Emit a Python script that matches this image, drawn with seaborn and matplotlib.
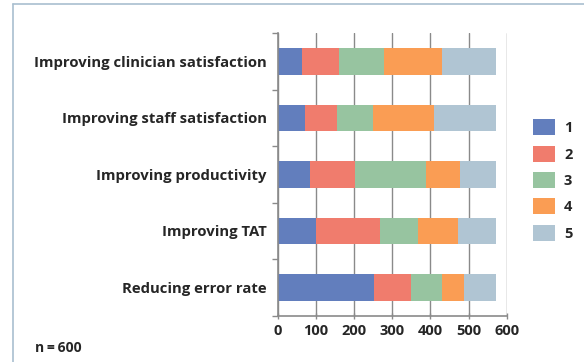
import numpy as np
import pandas as pd
import matplotlib
matplotlib.use("Agg")
import matplotlib.pyplot as plt
from matplotlib.lines import Line2D
from matplotlib.patches import Patch
import seaborn as sns

categories = ["Improving clinician satisfaction", "Improving staff satisfaction",
              "Improving productivity", "Improving TAT", "Reducing error rate"]
ratings = ["1", "2", "3", "4", "5"]
r1 = [64, 72, 85, 100, 252]
r2 = [97, 84, 118, 168, 97]
r3 = [117, 94, 184, 99, 80]
r4 = [152, 160, 91, 106, 59]
r5 = [142, 162, 94, 99, 84]
x_ticks = [0, 100, 200, 300, 400, 500, 600]
note = "n\u2009=\u2009600"

colors = ["#627ebd", "#f07c6d", "#97c4a0", "#fa9d54", "#b0c5d3"]

sns.set_theme(style="white")
plt.rcParams["font.family"] = ["Open Sans", "DejaVu Sans"]

series = [r1, r2, r3, r4, r5]
cum = np.cumsum(np.array(series), axis=0)

fig = plt.figure(figsize=(5.84, 3.62), dpi=100)
ax = fig.add_axes([278 / 584, 1 - 315.7 / 362, (506.7 - 278) / 584, (315.7 - 33) / 362])

for i in range(len(ratings) - 1, -1, -1):
    df = pd.DataFrame({"category": categories, "value": cum[i]})
    sns.barplot(data=df, x="value", y="category", orient="h", color=colors[i],
                saturation=1, width=0.47, ax=ax, edgecolor="none", linewidth=0)

ax.set_xlim(0, 600)
ax.set_ylim(4.5, -0.5)
ax.set_xticks(x_ticks)
ax.set_xticklabels([str(t) for t in x_ticks], fontsize=10.5, fontweight="bold", color="#262626")
ax.set_xlabel("")
ax.set_ylabel("")
ax.set_yticks(range(len(categories)))
ax.set_yticklabels(categories, fontsize=10.7, fontweight="bold", color="#262626")
ax.set_yticks([i - 0.5 for i in range(len(categories) + 1)], minor=True)
ax.tick_params(axis="y", which="major", length=0, pad=8)
ax.tick_params(axis="y", which="minor", length=4, width=1, color="#8a8a8a", direction="out", left=True)
ax.tick_params(axis="x", which="major", length=4, width=1, color="#8a8a8a", direction="inout", bottom=True, pad=4)
ax.xaxis.grid(True, color="#8a8a8a", linewidth=1)
ax.set_axisbelow(True)
for s in ["top", "right"]:
    ax.spines[s].set_visible(False)
for s in ["left", "bottom"]:
    ax.spines[s].set_color("#8a8a8a")
    ax.spines[s].set_linewidth(1.2)

handles = [Patch(facecolor=c, edgecolor="none") for c in colors]
leg = fig.legend(handles, ratings, loc="upper left", bbox_to_anchor=(526 / 584, 1 - 112 / 362),
                 frameon=False, prop={"weight": "bold", "size": 10.5}, handlelength=1.5,
                 handleheight=1.3, labelspacing=0.72, handletextpad=0.6, borderpad=0)
for t in leg.get_texts():
    t.set_color("#262626")

fig.text(35 / 584, 1 - 348 / 362, note, fontsize=10, fontweight="bold", color="#262626", va="center")

frame_c = "#a9bfcf"
fig.add_artist(Line2D([12.5 / 584, 12.5 / 584], [1 - 4 / 362, 0], transform=fig.transFigure,
                      color=frame_c, linewidth=1.2))
fig.add_artist(Line2D([12.5 / 584, 1], [1 - 4 / 362, 1 - 4 / 362], transform=fig.transFigure,
                      color=frame_c, linewidth=1.2))

fig.savefig("out.png", dpi=100)
